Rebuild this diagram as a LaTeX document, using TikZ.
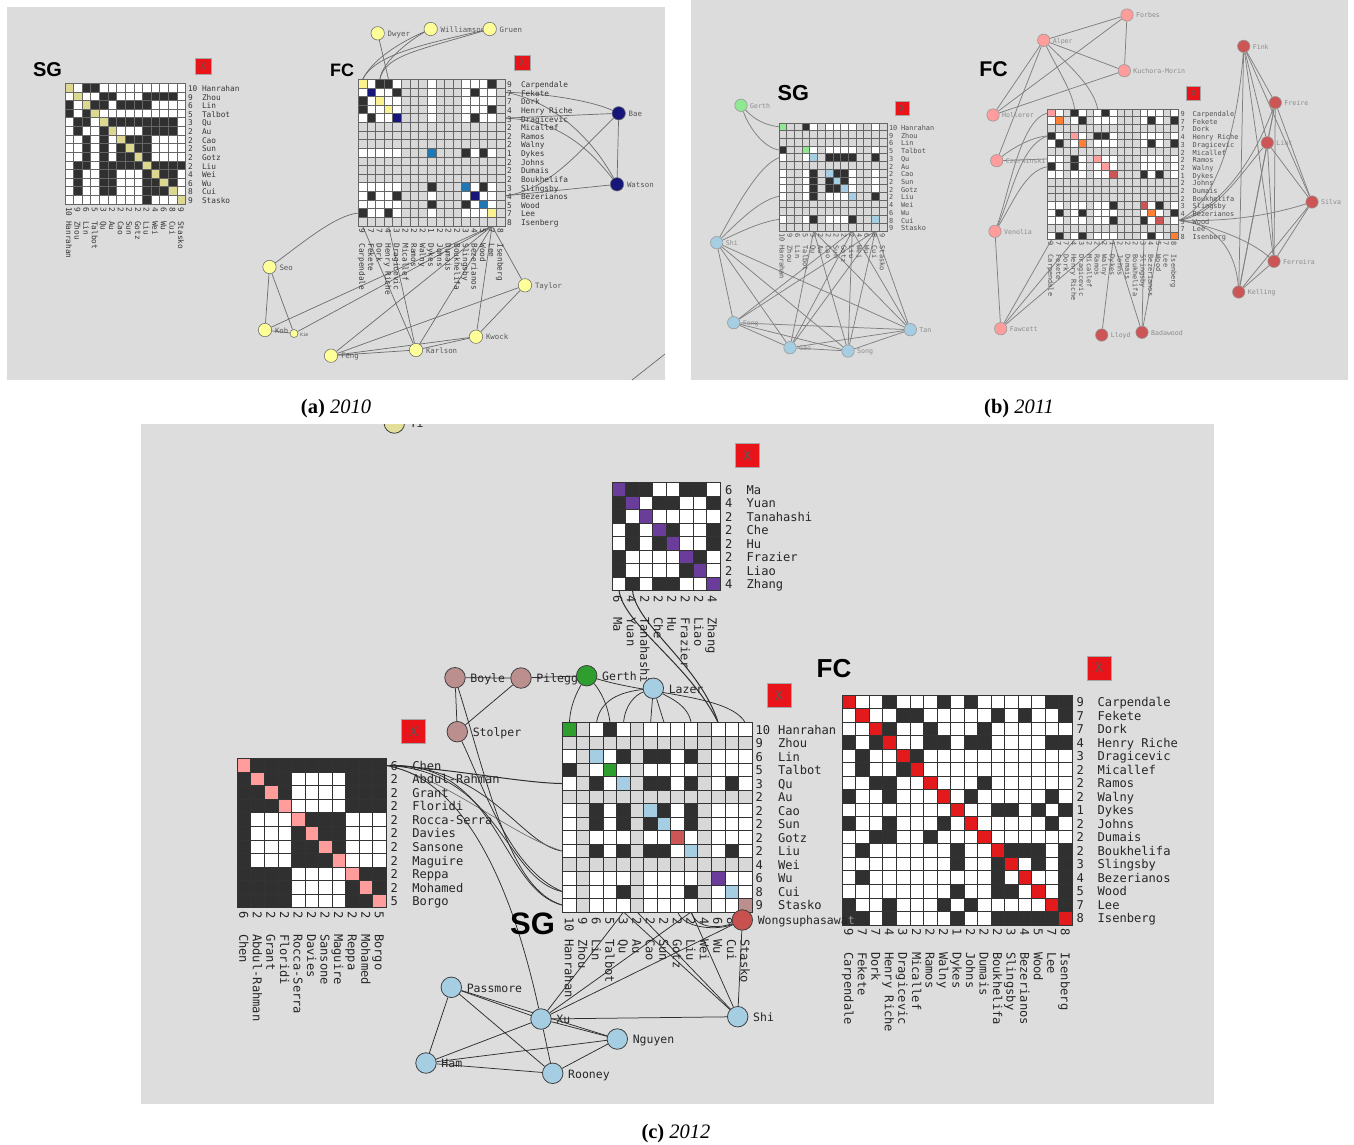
\documentclass[tikz,border=0pt]{standalone}
\usepackage{fontspec}
\usetikzlibrary{calc}
\newfontfamily\monof{DejaVu Sans Mono}
\newfontfamily\helvf{Liberation Sans}
\newfontfamily\timesf{Liberation Serif}
\pgfdeclarelayer{bglayer}
\pgfdeclarelayer{edgelayer}
\pgfsetlayers{bglayer,edgelayer,main}
\definecolor{panelA}{HTML}{DCDCDC}
\definecolor{panelC}{HTML}{DDDDDD}
\definecolor{ccw}{HTML}{FFFFFF}
\definecolor{ccg}{HTML}{D8D8D8}
\definecolor{cck}{HTML}{303030}
\definecolor{cca}{HTML}{DDD890}
\definecolor{ccy}{HTML}{F8F38E}
\definecolor{ccn}{HTML}{16167A}
\definecolor{ccb}{HTML}{1F78B4}
\definecolor{ccl}{HTML}{90E890}
\definecolor{ccc}{HTML}{A6CEE3}
\definecolor{ccp}{HTML}{FF9C9C}
\definecolor{cco}{HTML}{FF7F33}
\definecolor{ccr}{HTML}{CC5555}
\definecolor{ccv}{HTML}{6A3D9A}
\definecolor{ccd}{HTML}{2E9E2E}
\definecolor{ccm}{HTML}{BC8F8F}
\definecolor{cce}{HTML}{E31A1C}
\definecolor{btnred}{HTML}{E8141A}
\definecolor{vyel}{HTML}{FFFF99}
\definecolor{vkha}{HTML}{E3DF9B}
\definecolor{vredd}{HTML}{CC5555}
\definecolor{vredc}{HTML}{C8504F}
\tikzset{
  cellA/.style={draw=black!60,line width=.75pt,inner sep=0,outer sep=0,rectangle},
  cellC/.style={draw=black!80,line width=.9pt,inner sep=0,outer sep=0,rectangle},
  txt/.style={inner sep=0,outer sep=0,text height=.72em,text depth=.18em},
  lbA/.style={txt,text=black!78,font=\monof\fontsize{7.8}{9}\selectfont},
  lbB/.style={txt,text=black!68,font=\monof\fontsize{6.9}{8}\selectfont},
  lbC/.style={txt,text=black!85,font=\monof\fontsize{12.1}{14}\selectfont},
  vA/.style={circle,draw=black!55,line width=.6pt,minimum size=13.4pt,inner sep=0},
  vB/.style={circle,draw=black!40,line width=.6pt,minimum size=12.4pt,inner sep=0},
  vC/.style={circle,draw=black!75,line width=.8pt,minimum size=20.5pt,inner sep=0},
  vlA/.style={txt,text=black!65,label distance=3pt,yshift=-.5pt,font=\monof\fontsize{7.4}{9}\selectfont},
  vlB/.style={txt,text=black!45,label distance=2.6pt,font=\monof\fontsize{6.6}{8}\selectfont},
  vlC/.style={txt,text=black!85,label distance=4.8pt,yshift=-2pt,font=\monof\fontsize{11.5}{13}\selectfont},
  edgeA/.style={draw=black!58,line width=.7pt},
  edgeB/.style={draw=black!50,line width=.75pt},
  edgeC/.style={draw=black!82,line width=.75pt},
  edgeCl/.style={draw=black!60,line width=.6pt},
  xbtn/.style={rectangle,fill=btnred,draw=black!35,line width=.5pt,inner sep=0,text=black!65,font=\monof},
  ttl/.style={inner sep=0,font=\helvf\bfseries},
  capt/.style={inner sep=0,font=\timesf\fontsize{20.5}{24}\selectfont}
}
\newcount\rowc
\newcount\colc
\def\endmark{\relax}
\def\cellmat#1#2#3#4#5#6{\def\mname{#1}\def\mx{#2}\def\my{#3}\def\ms{#4}\def\mst{#5}\rowc=0 \rowloop#6,\relax,}
\def\rowloop#1,{\def\tmprow{#1}\ifx\tmprow\endmark\else\advance\rowc by 1 \colc=0 \cellloop#1\relax\expandafter\rowloop\fi}
\def\cellloop#1{\ifx#1\relax\else\advance\colc by 1
  \pgfmathsetmacro\cx{\mx+(\the\colc-0.5)*\ms}\pgfmathsetmacro\cy{\my+(\the\rowc-0.5)*\ms}%
  \node[\mst,minimum size=\ms pt,fill=cc#1] (\mname-\the\rowc-\the\colc) at (\cx,\cy) {};%
  \expandafter\cellloop\fi}
% name, x0, y0, cell, numx, namex, numy, namey, style, list; \rsh and \csh nudge the rows and columns of text
\def\mlabels#1#2#3#4#5#6#7#8#9{\def\lname{#1}\def\lx{#2}\def\ly{#3}\def\ls{#4}\def\lnumx{#5}\def\lnamx{#6}\def\lnumy{#7}\def\lnamy{#8}\def\lst{#9}\mlabelsB}
\def\mlabelsB#1{\foreach \n/\t [count=\i] in #1 {
  \pgfmathsetmacro\py{\ly+(\i-0.5)*\ls+\rsh}\pgfmathsetmacro\px{\lx+(\i-0.5)*\ls+\csh}
  \node[\lst,anchor=west] (\lname-rn\i) at (\lnumx,\py) {\n};
  \node[\lst,anchor=west] (\lname-rt\i) at (\lnamx,\py) {\t};
  \node[\lst,anchor=west,rotate=-90] (\lname-cn\i) at (\px,\lnumy) {\n};
  \node[\lst,anchor=west,rotate=-90] (\lname-ct\i) at (\px,\lnamy) {\t};
}}
\def\vtx#1#2#3#4#5#6{\node[v#1,fill=#6,label={[vl#1]0:#5}] (#2) at (#3,#4) {};}
\def\sglist{10/Hanrahan,9/Zhou,6/Lin,5/Talbot,3/Qu,2/Au,2/Cao,2/Sun,2/Gotz,2/Liu,4/Wei,6/Wu,8/Cui,9/Stasko}
\def\fclist{9/Carpendale,7/Fekete,7/Dork,4/Henry Riche,3/Dragicevic,2/Micallef,2/Ramos,2/Walny,1/Dykes,2/Johns,2/Dumais,2/Boukhelifa,3/Slingsby,4/Bezerianos,5/Wood,7/Lee,8/Isenberg}
\def\toplist{6/Ma,4/Yuan,2/Tanahashi,2/Che,2/Hu,2/Frazier,2/Liao,4/Zhang}
\def\leftlist{6/Chen,2/Abdul-Rahman,2/Grant,2/Floridi,2/Rocca-Serra,2/Davies,2/Sansone,2/Maguire,2/Reppa,2/Mohamed,5/Borgo}
\begin{document}
\begin{tikzpicture}[x=1pt,y=-1pt]
\useasboundingbox (0,0) rectangle (1354,1144);
\begin{pgfonlayer}{bglayer}
\fill[white] (0,0) rectangle (1354,1144);
\fill[panelA] (7,7) rectangle (665,380);
\fill[panelA] (691,0) rectangle (1348,380);
\fill[panelC] (141,424) rectangle (1214,1104);
\end{pgfonlayer}

% ---- matrices
\cellmat{A}{65}{83.3}{8.62}{cellA}{awkkwwwwwwwwww,wawwkkwwwkkkkw,kwakkwkkkkwwww,kwkawwwwwwwwww,wkkwakkkkkkkkw,wkwwkawwwkkkkw,wwkwkwakkkwwww,wwkwkwkakkwwww,wwkwkwkkakwwww,wkkwkkkkkakkkk,wkwwkkwwwkakkw,wkwwkkwwwkkakw,wkwwkkwwwkkkaw,wwwwwwwwwkwwwa}
\cellmat{B}{358.3}{79.3}{8.63}{cellA}{ywkkwgggwgggwwwkg,wnwwkgggwgggwkwwg,kwywwgggwgggwwwwg,kwwywgggwgggwwwkg,wkwwngggwgggwkwwg,ggggggggggggggggg,ggggggggggggggggg,ggggggggggggggggg,wwwwwgggbgggkwkwg,ggggggggggggggggg,ggggggggggggggggg,ggggggggggggggggg,wwwwwgggkgggbwkwg,wkwwkgggwgggwnwwg,wwwwwgggkgggkwbwg,kwwkwgggwgggwwwyg,ggggggggggggggggg}
\cellmat{C}{779}{123}{7.71}{cellA}{lggkwgwwwwggwg,gggggggggggggg,gggggggggggggg,kgglwgwwwwggwg,wggwcgkkkkggkg,gggggggggggggg,wggwkgckkwggwg,wggwkgkckwggwg,wggwkgkkcwggwg,wggwkgwwwcggkg,gggggggggggggg,gggggggggggggg,wggwkgwwwkggcg,gggggggggggggg}
\cellmat{D}{1047.7}{109}{7.69}{cellA}{pwgkwgwkwgggwwwgw,wogwkgwwwgggwkwgk,ggggggggggggggggg,kwgpwgkkwgggwwwgw,wkgwogwwwgggwkwgk,ggggggggggggggggg,wwgkwgpwwgggwwwgw,kwgkwgwpwgggwwwgw,wwgwwgwwrgggkwkgw,ggggggggggggggggg,ggggggggggggggggg,ggggggggggggggggg,wwgwwgwwkgggrwkgw,wkgwkgwwwgggwowgk,wwgwwgwwkgggkwrgw,ggggggggggggggggg,wkgwkgwwwgggwkwgo}
\cellmat{E}{612.3}{482.7}{13.5}{cellC}{vkkwwkkw,kvwkkwwk,kwvwwwww,wkwvkwwk,wkwkvwwk,kwwwwvkw,kwwwwkvw,wkwkkwwv}
\cellmat{F}{562.7}{722.7}{13.52}{cellC}{dgwkwgwwwwgwww,gggggggggggggg,wgcwkgkkwkgwww,kgwdwgwwwwgwww,wgkwcgkkwkgwkw,gggggggggggggg,wgkwkgckwkgwww,wgkwkgkcwkgwww,wgwwwgwwrwgwww,wgkwkgkkwcgwkw,gggggggggggggg,wgwwwgwwwwgvww,wgwwkgwwwkgwcw,wgwwwgwwwwgwwm}
\cellmat{G}{842.3}{695}{13.53}{cellC}{ewwkwwwkwkwwwwwkk,wewwkkwwwwwkwkwwk,wwekwwkwwwkwwwwww,kwkewwkkwkkwwwwkk,wkwwekwwwwwwwwwww,wkwwkewwwwwwwwwww,wwkkwwewwwkwwwwww,kwwkwwwewkwwwwwkw,wwwwwwwwewwkkwkwk,kwwkwwwkwewwwwwkw,wwkkwwkwwwewwwwww,wkwwwwwwkwwekkkwk,wwwwwwwwkwwkewkwk,wkwwwwwwwwwkwewwk,wwwwwwwwkwwkkwewk,kwwkwwwkwkwwwwwek,kkwkwwwwkwwkkkkke}
\cellmat{H}{237.3}{758.7}{13.55}{cellC}{pkkkkkkkkkk,kpkkwwwwkkk,kkpkwwwwkkk,kkkpwwwwkkk,kwwwpkkkwww,kwwwkpkkwww,kwwwkkpkwww,kwwwkkkpwww,kkkkwwwwpkk,kkkkwwwwkpk,kkkkwwwwkkp}

% ---- matrix labels
\def\rsh{1.2}\def\csh{-.5}
\mlabels{A}{65}{83.3}{8.62}{188}{202}{207}{221}{lbA}{\sglist}
\mlabels{B}{358.3}{79.3}{8.63}{507}{521}{228.5}{243.3}{lbA}{\fclist}
\def\rsh{1}\def\csh{-.5}
\mlabels{C}{779}{123}{7.71}{889}{901}{233.3}{245.7}{lbB}{\sglist}
\mlabels{D}{1047.7}{109}{7.69}{1180.7}{1192.7}{241.7}{254.7}{lbB}{\fclist}
\def\rsh{2}\def\csh{-3}
\mlabels{E}{612.3}{482.7}{13.5}{725}{746.7}{595.7}{617.3}{lbC}{\toplist}
\def\csh{-2}
\mlabels{F}{562.7}{722.7}{13.52}{755.7}{778}{917.3}{939.3}{lbC}{\sglist}
\mlabels{G}{842.3}{695}{13.53}{1076.7}{1097.7}{928.3}{952}{lbC}{\fclist}
\mlabels{H}{237.3}{758.7}{13.55}{390.7}{412.3}{911.7}{934}{lbC}{\leftlist}

% ---- titles and close buttons
\node[ttl,font=\helvf\bfseries\fontsize{20}{22}\selectfont] (tA) at (47.5,70) {SG};
\node[ttl,font=\helvf\bfseries\fontsize{18}{20}\selectfont] (tB) at (342,69.8) {FC};
\node[ttl,font=\helvf\bfseries\fontsize{21.7}{24}\selectfont] (tC) at (793.3,93) {SG};
\node[ttl,font=\helvf\bfseries\fontsize{21.3}{24}\selectfont] (tD) at (993.5,69) {FC};
\node[ttl,font=\helvf\bfseries\fontsize{31}{34}\selectfont] (tF) at (532.5,924) {SG};
\node[ttl,font=\helvf\bfseries\fontsize{26}{30}\selectfont] (tG) at (834,669) {FC};
\node[xbtn,minimum size=15.5pt,font=\monof\fontsize{9}{10}\selectfont] (xA) at (203.2,66.3) {X};
\node[xbtn,minimum size=15.3pt,font=\monof\fontsize{9}{10}\selectfont] (xB) at (522.3,62.7) {X};
\node[xbtn,minimum size=14pt,font=\monof\fontsize{8.5}{10}\selectfont] (xC) at (902,108) {X};
\node[xbtn,minimum size=14pt,font=\monof\fontsize{8.5}{10}\selectfont] (xD) at (1193.7,93.7) {X};
\node[xbtn,minimum size=24pt,font=\monof\fontsize{13}{15}\selectfont] (xE) at (747.3,455.3) {X};
\node[xbtn,minimum size=24pt,font=\monof\fontsize{13}{15}\selectfont] (xF) at (779,695.7) {X};
\node[xbtn,minimum size=24pt,font=\monof\fontsize{13}{15}\selectfont] (xG) at (1099,668) {X};
\node[xbtn,minimum size=24pt,font=\monof\fontsize{13}{15}\selectfont] (xH) at (413.7,731.3) {X};

% ---- captions
\node[capt] (capA) at (336,409) {{\bfseries(a)} {\itshape 2010}};
\node[capt] (capB) at (1019,409) {{\bfseries(b)} {\itshape 2011}};
\node[capt] (capC) at (676,1134) {{\bfseries(c)} {\itshape 2012}};

% ---- panel a vertices
\vtx{A}{aDwyer}{377.7}{33.3}{Dwyer}{vyel}
\vtx{A}{aWilliamson}{430.7}{29}{Williamson}{vyel}
\vtx{A}{aGruen}{489.7}{29}{Gruen}{vyel}
\vtx{A}{aBae}{618.7}{113.3}{Bae}{ccn}
\vtx{A}{aWatson}{617}{184.3}{Watson}{ccn}
\vtx{A}{aTaylor}{525}{285.3}{Taylor}{vyel}
\vtx{A}{aKwock}{476}{336.7}{Kwock}{vyel}
\vtx{A}{aKarlson}{416}{350}{Karlson}{vyel}
\vtx{A}{aFeng}{331}{355.7}{Feng}{vyel}
\vtx{A}{aSeo}{269.5}{267}{Seo}{vyel}
\vtx{A}{aKoh}{265}{330}{Koh}{vyel}
\node[vA,minimum size=8pt,fill=vyel,label={[vlA,font=\monof\fontsize{4.5}{5}\selectfont,label distance=2pt]0:Kim}] (aKim) at (294,333.5) {};
\coordinate (aStrayA) at (632,380);
\coordinate (aStrayB) at (665,354);

% ---- panel b vertices
\vtx{B}{bGerth}{741}{105.3}{Gerth}{ccl}
\vtx{B}{bShi}{716.7}{242.7}{Shi}{ccc}
\vtx{B}{bFong}{733.7}{322.7}{Fong}{ccc}
\vtx{B}{bGao}{790}{347.7}{Gao}{ccc}
\vtx{B}{bSong}{848}{351}{Song}{ccc}
\vtx{B}{bTan}{910.3}{329.7}{Tan}{ccc}
\vtx{B}{bForbes}{1127}{15}{Forbes}{ccp}
\vtx{B}{bAlper}{1043.7}{40.3}{Alper}{ccp}
\vtx{B}{bKuchora}{1124.3}{70.7}{Kuchora-Morin}{ccp}
\vtx{B}{bHollerer}{993}{115}{Hollerer}{ccp}
\vtx{B}{bCzerwinski}{996.7}{160.7}{Czerwinski}{ccp}
\vtx{B}{bVenolia}{995}{231.3}{Venolia}{ccp}
\vtx{B}{bFawcett}{1000.7}{328.7}{Fawcett}{ccp}
\vtx{B}{bLloyd}{1101.7}{335}{Lloyd}{vredd}
\vtx{B}{bBadawood}{1142}{332.3}{Badawood}{vredd}
\vtx{B}{bKelling}{1238.7}{292}{Kelling}{vredd}
\vtx{B}{bFerreira}{1274}{261.3}{Ferreira}{vredd}
\vtx{B}{bSilva}{1312}{202}{Silva}{vredd}
\vtx{B}{bLint}{1267.3}{142.7}{Lint}{vredd}
\vtx{B}{bFreire}{1275.3}{102.7}{Freire}{vredd}
\vtx{B}{bFink}{1243.7}{46.3}{Fink}{vredd}

% ---- panel c vertices
\begin{scope}
\clip (141,424) rectangle (1214,1104);
\vtx{C}{cYi}{394.3}{423}{Yi}{vkha}
\end{scope}
\vtx{C}{cBoyle}{455}{677.7}{Boyle}{ccm}
\vtx{C}{cPileggi}{521}{678}{Pileggi}{ccm}
\vtx{C}{cGerth}{586.7}{675.7}{Gerth}{ccd}
\vtx{C}{cLazer}{653.3}{688.3}{Lazer}{ccc}
\vtx{C}{cStolper}{457.3}{731.7}{Stolper}{ccm}
\vtx{C}{cWong}{742.3}{920}{Wongsuphasawa{\color{black!40}t}}{vredc}
\vtx{C}{cPassmore}{451.3}{987.3}{Passmore}{ccc}
\vtx{C}{cXu}{541}{1019}{Xu}{ccc}
\vtx{C}{cShi}{737.7}{1016.7}{Shi}{ccc}
\vtx{C}{cNguyen}{617.3}{1039}{Nguyen}{ccc}
\vtx{C}{cRooney}{552.7}{1073.3}{Rooney}{ccc}
\vtx{C}{cHam}{426}{1063}{Ham}{ccc}

% ---- edges
\begin{pgfonlayer}{edgelayer}
% panel a
\draw[edgeA] (aDwyer) -- (B-1-4.north);
\draw[edgeA] (aWilliamson) .. controls (410,38) and (375,55) .. (B-1-1.north);
\draw[edgeA] (aWilliamson) .. controls (415,37) and (382,60) .. (B-1-3.north);
\draw[edgeA] (aGruen) .. controls (420,45) and (375,55) .. (B-1-1.north);
\draw[edgeA] (aGruen) .. controls (420,50) and (385,55) .. (B-1-3.north);
\draw[edgeA] (aBae) .. controls (590,100) and (540,93) .. (B-2-17.east);
\draw[edgeA] (aWatson) .. controls (590,135) and (550,100) .. (B-2-17.east);
\draw[edgeA] (aBae) -- (B-5-17.east);
\draw[edgeA] (aWatson) .. controls (590,150) and (560,120) .. (B-5-17.east);
\draw[edgeA] (aBae) .. controls (580,150) and (550,190) .. (B-14-17.east);
\draw[edgeA] (aWatson) -- (B-14-17.east);
\draw[edgeA] (aBae) -- (aWatson);
\draw[edgeA] (aSeo) .. controls (300,245) and (335,215) .. (B-16-1.west);
\draw[edgeA] (aSeo) -- (aKoh);
\draw[edgeA] (aSeo) -- (aKim);
\draw[edgeA] (aKoh) -- (aKim);
\foreach \s in {aKoh,aKim,aFeng,aKarlson,aKwock,aTaylor} \draw[edgeA] (\s) -- (B-17-16.south);
\draw[edgeA] (aKarlson) -- (B-17-1.south);
\draw[edgeA] (aKarlson) -- (B-17-4.south);
\draw[edgeA] (aTaylor) -- (aFeng);
\draw[edgeA] (aTaylor) -- (aKwock);
\draw[edgeA] (aKwock) -- (aKarlson);
\draw[edgeA] (aKwock) -- (aFeng);
\draw[edgeA] (aKarlson) -- (aFeng);
\draw[edgeA] (aStrayA) -- (aStrayB);
% panel b SG
\draw[edgeB] (bGerth) .. controls (755,120) and (765,125) .. (C-1-1.west);
\draw[edgeB] (bGerth) .. controls (750,130) and (765,148) .. (C-4-1.west);
\draw[edgeB] (bShi) .. controls (740,200) and (760,165) .. (C-5-1.west);
\draw[edgeB] (bShi) .. controls (740,220) and (760,200) .. (C-10-1.west);
\draw[edgeB] (bShi) .. controls (740,232) and (760,222) .. (C-13-1.west);
\foreach \s/\c in {bFong/10,bFong/13,bGao/5,bGao/10,bGao/13,bSong/5,bSong/10,bSong/13,bTan/5,bTan/10,bTan/13} \draw[edgeB] (\s) -- (C-14-\c.south);
\foreach \s/\t in {bShi/bFong,bShi/bGao,bShi/bSong,bShi/bTan,bFong/bGao,bFong/bSong,bFong/bTan,bGao/bSong,bGao/bTan,bSong/bTan} \draw[edgeB] (\s) -- (\t);
% panel b FC
\foreach \s/\t in {bForbes/bAlper,bForbes/bKuchora,bForbes/bHollerer,bAlper/bKuchora,bAlper/bHollerer,bAlper/bCzerwinski,bKuchora/bHollerer,bVenolia/bFawcett} \draw[edgeB] (\s) -- (\t);
\draw[edgeB] (bAlper) .. controls (1055,65) and (1072,90) .. (D-1-4.north);
\draw[edgeB] (bAlper) .. controls (1065,62) and (1093,85) .. (D-1-7.north);
\draw[edgeB] (bVenolia) .. controls (1010,190) and (1020,120) .. (D-1-1.west);
\draw[edgeB] (bVenolia) .. controls (1012,195) and (1020,145) .. (D-4-1.west);
\draw[edgeB] (bVenolia) .. controls (1012,205) and (1025,170) .. (D-8-1.west);
\draw[edgeB] (bCzerwinski) .. controls (1010,150) and (1030,137) .. (D-4-1.west);
\draw[edgeB] (bCzerwinski) -- (D-7-1.west);
\foreach \c in {1,4,8} \draw[edgeB] (bFawcett) -- (D-17-\c.south);
\draw[edgeB] (bLloyd) -- (D-17-9.south);
\draw[edgeB] (bBadawood) -- (D-17-9.south);
\draw[edgeB] (bBadawood) -- (D-17-13.south);
\draw[edgeB] (bBadawood) -- (D-17-15.south);
\draw[edgeB] (bSilva) .. controls (1280,212) and (1240,222) .. (D-15-17.east);
\draw[edgeB] (bFerreira) .. controls (1250,240) and (1210,225) .. (D-15-17.east);
\draw[edgeB] (bKelling) .. controls (1235,245) and (1210,222) .. (D-15-17.east);
\draw[edgeB] (bLint) .. controls (1240,175) and (1215,215) .. (D-15-17.east);
\draw[edgeB] (bFreire) .. controls (1250,170) and (1215,210) .. (D-15-17.east);
\draw[edgeB] (bFink) .. controls (1240,100) and (1225,200) .. (D-15-17.east);
\foreach \s/\t in {bFink/bFreire,bFink/bLint,bFink/bFerreira,bFink/bKelling,bFink/bSilva,bFreire/bLint,bFreire/bSilva,bFreire/bKelling,bFreire/bFerreira,bLint/bSilva,bLint/bKelling,bLint/bFerreira,bSilva/bFerreira,bSilva/bKelling,bFerreira/bKelling} \draw[edgeB] (\s) -- (\t);
% panel c
\foreach \s/\t in {cBoyle/cPileggi,cBoyle/cStolper,cPileggi/cStolper,cPileggi/cGerth,cWong/cXu,cWong/cShi,cXu/cShi,cXu/cNguyen,cXu/cPassmore,cXu/cRooney,cXu/cHam,cPassmore/cHam,cPassmore/cRooney,cPassmore/cNguyen,cHam/cNguyen,cHam/cRooney,cNguyen/cRooney} \draw[edgeC] (\s) -- (\t);
\draw[edgeC] (cGerth) .. controls (578,690) and (570,705) .. (F-1-1.north);
\draw[edgeC] (cGerth) .. controls (600,690) and (608,705) .. (F-1-4.north);
\draw[edgeC] (cGerth) .. controls (650,695) and (730,695) .. (F-1-14.north);
\draw[edgeC] (cLazer) .. controls (620,692) and (600,700) .. (F-1-3.north);
\draw[edgeC] (cLazer) .. controls (635,695) and (625,705) .. (F-1-5.north);
\draw[edgeC] (cLazer) -- (F-1-7.north);
\draw[edgeC] (cLazer) -- (F-1-8.north);
\draw[edgeC] (cLazer) .. controls (670,698) and (688,705) .. (F-1-10.north);
\draw[edgeC,line width=1pt] (E-8-1.south) .. controls (624,625) and (690,665) .. (F-1-12.north);
\draw[edgeC,line width=1pt] (E-8-2.south) .. controls (636,625) and (700,665) .. (F-1-12.north);
\draw[edgeC,line width=1pt] (H-1-11.east) .. controls (450,768) and (520,783) .. (F-5-1.west);
\draw[edgeC] (H-1-11.east) .. controls (490,765) and (520,845) .. (F-10-1.west);
\draw[edgeCl] (H-1-11.east) .. controls (450,780) and (510,835) .. (F-10-1.west);
\draw[edgeC] (H-1-11.east) .. controls (500,770) and (505,880) .. (F-13-1.west);
\draw[edgeC] (H-1-11.east) .. controls (500,760) and (500,890) .. (F-14-1.west);
\draw[edgeC] (H-1-11.east) .. controls (470,780) and (515,900) .. (cXu);
\draw[edgeC] (cBoyle) .. controls (490,790) and (510,890) .. (F-14-1.west);
\draw[edgeC] (cStolper) .. controls (485,790) and (510,870) .. (F-13-1.west);
\draw[edgeC] (cWong) .. controls (720,928) and (697,930) .. (F-14-10.south);
\draw[edgeC] (cWong) .. controls (720,930) and (685,930) .. (F-14-9.south);
\draw[edgeC] (cXu) -- (F-14-5.south);
\draw[edgeC] (cXu) -- (F-14-10.south);
\draw[edgeC] (cShi) -- (F-14-5.south);
\draw[edgeC] (cShi) -- (F-14-6.south);
\draw[edgeC] (cShi) -- (F-14-10.south);
\end{pgfonlayer}
\end{tikzpicture}
\end{document}
